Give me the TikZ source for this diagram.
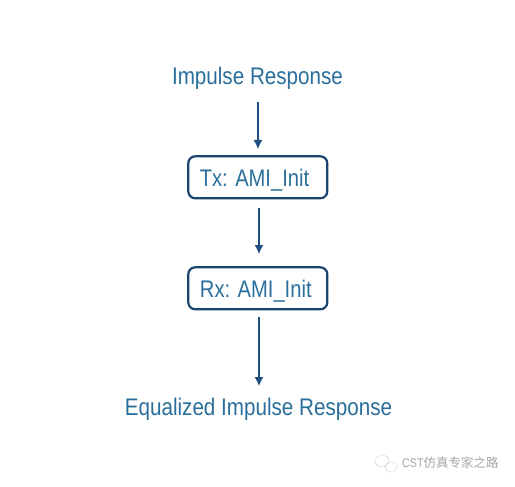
\documentclass[tikz,border=0pt]{standalone}
\usepackage{fontspec}
\setmainfont[FakeStretch=0.86]{Liberation Sans}
\newfontfamily\boxfont[FakeStretch=0.84]{Liberation Sans}
\newfontfamily\cjk{Noto Sans CJK SC}
\definecolor{txtblue}{HTML}{2A6F9B}
\definecolor{linkblue}{HTML}{1F4E80}
\definecolor{boxblue}{HTML}{1B4470}
\definecolor{wm}{HTML}{A6A6A6}
\tikzset{
  x=1pt,y=-1pt,
  label text/.style={text=txtblue,font=\fontsize{24}{28}\selectfont,inner sep=0pt},
  procbox/.style={draw=boxblue,line width=2.2pt,rounded corners=7pt,fill=white,minimum width=139pt,minimum height=42pt,inner sep=0pt,text=txtblue,font=\boxfont\fontsize{24}{28}\selectfont},
  link/.style={draw=linkblue,line width=1.4pt,-{Latex[length=9pt,width=9pt]}},
}
\usetikzlibrary{arrows.meta}
\begin{document}
\begin{tikzpicture}
\useasboundingbox (0,0) rectangle (515,487);
\fill[white] (0,0) rectangle (515,487);
\node[label text] (ir) at (257.5,78.5) {Impulse Response};
\node[procbox] (tx) at (257.8,177.3) {\raisebox{-9.4pt}[0pt][0pt]{Tx: AMI\_Init}\kern6.6pt};
\node[procbox] (rx) at (257.8,288.3) {\raisebox{-9pt}[0pt][0pt]{Rx: AMI\_Init}\kern4pt};
\node[label text] (eq) at (258.5,409.5) {Equalized Impulse Response};
\coordinate (a1s) at (258,102);
\coordinate (a1e) at (258,149);
\coordinate (a2s) at (259,208);
\coordinate (a2e) at (259,254);
\coordinate (a3s) at (259,317);
\coordinate (a3e) at (259,386);
\draw[link] (a1s) -- (a1e);
\draw[link] (a2s) -- (a2e);
\draw[link] (a3s) -- (a3e);
\draw[wm!70,line width=0.7pt,densely dotted] (382,461) ellipse (7pt and 6pt);
\draw[wm!70,line width=0.7pt,densely dotted] (391,467) ellipse (6pt and 5pt);
\node[text=wm,inner sep=0pt,anchor=west,font=\fontsize{12.5}{14}\selectfont] (wmtext) at (402,463) {CST{\cjk 仿真专家之路}};
\end{tikzpicture}
\end{document}
